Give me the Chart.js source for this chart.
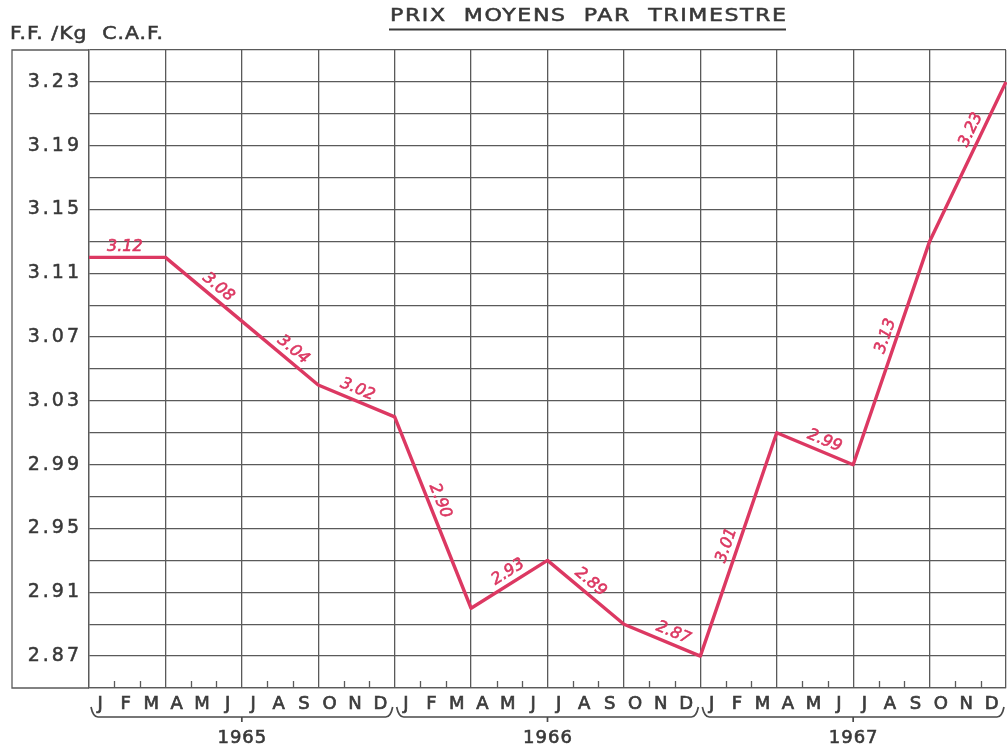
<!DOCTYPE html>
<html><head><meta charset="utf-8">
<script src="https://cdn.jsdelivr.net/npm/chart.js@4/dist/chart.umd.min.js"></script>
<style>html,body{margin:0;padding:0;background:#fff}#wrap{width:1007px;height:752px;position:relative}</style>
</head><body><div id="wrap"><canvas id="c" width="1007" height="752"></canvas></div>
<script>
// ---- data ----
const monthLetters = ['J','F','M','A','M','J','J','A','S','O','N','D'];
const years = ['1965','1966','1967'];
const boundaryMonths = [0,3,6,9,12,15,18,21,24,27,30,33,36];
const prices = [3.12,3.12,3.08,3.04,3.02,2.90,2.93,2.89,2.87,3.01,2.99,3.13,3.23];
const quarterLabels = ['3.12','3.08','3.04','3.02','2.90','2.93','2.89','2.87','3.01','2.99','3.13','3.23'];
const yTickValues = [2.87,2.91,2.95,2.99,3.03,3.07,3.11,3.15,3.19,3.23];
const titleText = 'PRIX  MOYENS  PAR  TRIMESTRE';
const yTitleText = 'F.F. /Kg  C.A.F.';

// ---- style ----
const RED = '#dc3862';
const GRID = '#5a5a5a';
const TEXT = '#383838';
const labelFrac = [0.47,0.6,0.58,0.46,0.46,0.56,0.47,0.59,0.48,0.57,0.56,0.67];
const labelOffset = 11;

function drawSpaced(ctx, text, x, y, target, font, sx) {
  ctx.save();
  ctx.font = font;
  ctx.letterSpacing = '0px';
  const w0 = ctx.measureText(text).width * sx;
  const ls = Math.max(0, (target - w0) / (text.length - 1)) / sx;
  ctx.letterSpacing = ls + 'px';
  ctx.textAlign = 'left';
  ctx.textBaseline = 'middle';
  ctx.translate(x, y);
  ctx.scale(sx, 1);
  ctx.lineWidth = 0.5;
  ctx.fillText(text, 0, 0);
  ctx.strokeText(text, 0, 0);
  ctx.restore();
}

const decor = {
  id: 'decor',
  beforeDraw(chart) {
    chart.ctx.letterSpacing = '3px';
  },
  afterDraw(chart) {
    const ctx = chart.ctx;
    const xs = chart.scales.x;
    const ca = chart.chartArea;
    ctx.save();
    ctx.letterSpacing = '0px';
    ctx.fillStyle = TEXT;
    ctx.strokeStyle = TEXT;
    // title
    drawSpaced(ctx, titleText, 390, 17, 396, '17px "DejaVu Sans"', 1.3);
    ctx.lineWidth = 2;
    ctx.beginPath(); ctx.moveTo(389, 29.5); ctx.lineTo(786, 29.5); ctx.stroke();
    // y title
    drawSpaced(ctx, yTitleText, 10, 35, 153, '17px "DejaVu Sans"', 1.2);
    // outer box
    ctx.strokeStyle = GRID; ctx.lineWidth = 1.3;
    ctx.beginPath();
    ctx.moveTo(ca.left, ca.top); ctx.lineTo(12, ca.top); ctx.lineTo(12, ca.bottom); ctx.lineTo(ca.left, ca.bottom);
    ctx.stroke();
    // month ticks
    ctx.beginPath();
    for (let m = 1; m < 36; m++) {
      if (m % 3 === 0) continue;
      const px = Math.round(xs.getPixelForValue(m)) + 0.5;
      ctx.moveTo(px, ca.bottom); ctx.lineTo(px, ca.bottom - 7);
    }
    ctx.stroke();
    // braces and years
    ctx.fillStyle = TEXT;
    years.forEach((yr, i) => {
      const x0 = xs.getPixelForValue(12 * i) + 2;
      const x1 = xs.getPixelForValue(12 * (i + 1)) - 2;
      const top = 707, bot = 717;
      const cx = (x0 + x1) / 2;
      ctx.strokeStyle = '#4a4a4a'; ctx.lineWidth = 1.7;
      ctx.beginPath();
      ctx.moveTo(x0, top);
      ctx.quadraticCurveTo(x0 + 2, bot, x0 + 7, bot);
      ctx.lineTo(x1 - 7, bot);
      ctx.quadraticCurveTo(x1 - 2, bot, x1, top);
      ctx.moveTo(cx, bot); ctx.lineTo(cx, bot + 5);
      ctx.stroke();
      ctx.font = '18px "DejaVu Sans"';
      ctx.letterSpacing = '1px';
      ctx.textAlign = 'center'; ctx.textBaseline = 'middle';
      ctx.strokeStyle = TEXT; ctx.lineWidth = 0.6;
      ctx.fillText(yr, cx + 0.5, 738);
      ctx.strokeText(yr, cx + 0.5, 738);
      ctx.letterSpacing = '0px';
    });
    // segment labels
    const meta = chart.getDatasetMeta(0);
    ctx.fillStyle = RED;
    ctx.strokeStyle = RED;
    ctx.lineWidth = 0.6;
    ctx.font = 'italic 16px "DejaVu Sans"';
    ctx.textAlign = 'center'; ctx.textBaseline = 'middle';
    for (let i = 0; i < quarterLabels.length; i++) {
      const p0 = meta.data[i], p1 = meta.data[i + 1];
      const dx = p1.x - p0.x, dy = p1.y - p0.y;
      const a = Math.atan2(dy, dx);
      const f = labelFrac[i];
      const bx = p0.x + dx * f + Math.sin(a) * labelOffset;
      const by = p0.y + dy * f - Math.cos(a) * labelOffset;
      ctx.save();
      ctx.translate(bx, by);
      ctx.rotate(a);
      ctx.fillText(quarterLabels[i], 0, 0);
      ctx.strokeText(quarterLabels[i], 0, 0);
      ctx.restore();
    }
    ctx.restore();
  }
};

new Chart(document.getElementById('c'), {
  type: 'line',
  data: {
    datasets: [{
      data: boundaryMonths.map((m, i) => ({ x: m, y: prices[i] })),
      borderColor: RED,
      borderWidth: 3.4,
      pointRadius: 0,
      tension: 0,
      clip: false,
      borderJoinStyle: 'round'
    }]
  },
  options: {
    responsive: false,
    animation: false,
    devicePixelRatio: 1,
    layout: { padding: { top: 50, left: 0, right: 1, bottom: 0 } },
    plugins: { legend: { display: false }, tooltip: { enabled: false }, title: { display: false } },
    scales: {
      x: {
        type: 'linear', min: 0, max: 36,
        afterFit(s) { s.height = 64; s.paddingLeft = 0; s.paddingRight = 0; },
        grid: {
          drawTicks: false,
          color: (c) => { const v = c.tick ? c.tick.value : 0; return Math.abs(v / 3 - Math.round(v / 3)) < 1e-6 ? GRID : 'rgba(0,0,0,0)'; },
          lineWidth: 1.3
        },
        border: { display: true, color: GRID, width: 1.3 },
        ticks: {
          stepSize: 0.5, autoSkip: false, maxRotation: 0, minRotation: 0, padding: 6,
          color: '#3c3c3c', font: { family: 'DejaVu Sans', size: 18 },
          textStrokeColor: '#3c3c3c', textStrokeWidth: 0.7,
          callback: (v) => { const fl = Math.floor(v); return Math.abs(v - fl - 0.5) < 1e-6 ? monthLetters[fl % 12] : ''; }
        }
      },
      y: {
        type: 'linear', min: 2.85, max: 3.25,
        afterFit(s) { s.width = 89; },
        grid: { drawTicks: false, color: GRID, lineWidth: 1.3 },
        border: { display: true, color: GRID, width: 1.3 },
        ticks: {
          stepSize: 0.02, autoSkip: false, padding: 7,
          color: TEXT, font: { family: 'DejaVu Sans', size: 19 },
          textStrokeColor: TEXT, textStrokeWidth: 0.5,
          callback: (v) => { const hit = yTickValues.find(t => Math.abs(t - v) < 1e-6); return hit !== undefined ? hit.toFixed(2) : ''; }
        }
      }
    }
  },
  plugins: [decor]
});
</script>
</body></html>
